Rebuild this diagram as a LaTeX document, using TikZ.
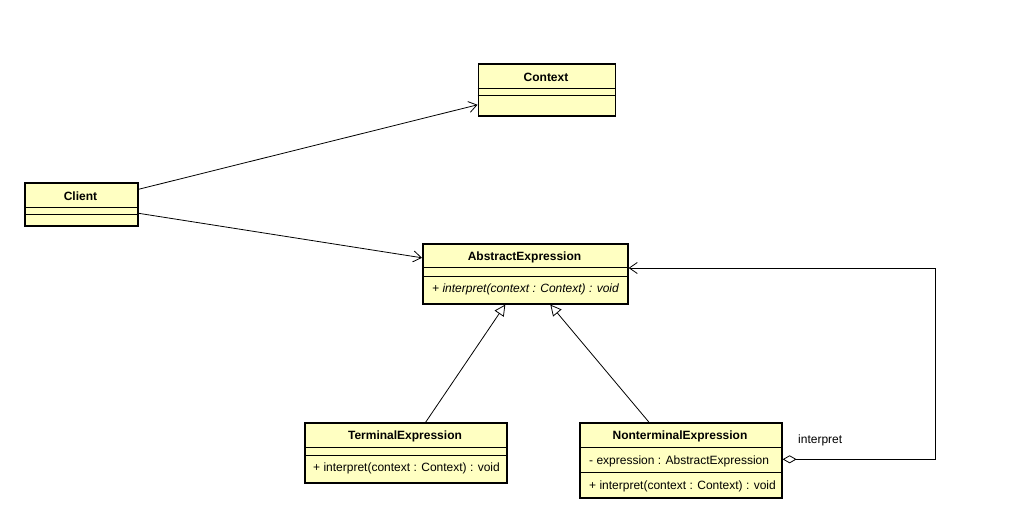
\documentclass[tikz,border=0pt]{standalone}
\usepackage{fontspec}
\setmainfont{Liberation Sans}
\usetikzlibrary{arrows.meta}
\usepackage{xcolor}
\definecolor{classfill}{HTML}{FFFFC2}
\definecolor{ink}{HTML}{000000}

\begin{document}
\begin{tikzpicture}[x=1pt, y=-1pt,
  cls/.style={draw=ink, line width=1.6pt, fill=classfill, anchor=north west,
              inner sep=0pt},
  sep/.style={draw=ink, line width=0.8pt},
  cname/.style={font=\fontsize{12}{14}\selectfont\bfseries, text=ink},
  member/.style={font=\fontsize{12}{14}\selectfont, text=ink, anchor=west,
                 inner sep=0pt},
  assoc/.style={draw=ink, line width=0.8pt, -{Straight Barb[length=8pt,width=11pt]}},
  inherit/.style={draw=ink, line width=0.8pt,
                  -{Triangle[open, length=11pt, width=11pt, fill=white]}}
]
  \useasboundingbox (0,0) rectangle (1030,532);

  % Context
  \node[cls, minimum width=137pt, minimum height=52pt] (ctx) at (477.5,63) {};
  \draw[sep] ([yshift=-25pt]ctx.north west) -- ([yshift=-25pt]ctx.north east);
  \draw[sep] ([yshift=-32pt]ctx.north west) -- ([yshift=-32pt]ctx.north east);
  \node[cname] (ctxname) at (546,77) {Context};

  % Client
  \node[cls, minimum width=113pt, minimum height=43pt] (cli) at (24,182) {};
  \draw[sep] ([yshift=-25pt]cli.north west) -- ([yshift=-25pt]cli.north east);
  \draw[sep] ([yshift=-32pt]cli.north west) -- ([yshift=-32pt]cli.north east);
  \node[cname] (cliname) at (80.5,196) {Client};

  % AbstractExpression
  \node[cls, minimum width=205pt, minimum height=60pt] (abs) at (422,243) {};
  \draw[sep] ([yshift=-24pt]abs.north west) -- ([yshift=-24pt]abs.north east);
  \draw[sep] ([yshift=-33pt]abs.north west) -- ([yshift=-33pt]abs.north east);
  \node[cname] (absname) at (524.5,257) {AbstractExpression};
  \node[member, font=\fontsize{12}{14}\selectfont\itshape] (absop) at (432,289)
    {+ interpret(context : Context) : void};

  % TerminalExpression
  \node[cls, minimum width=202pt, minimum height=60pt] (tex) at (304,422) {};
  \draw[sep] ([yshift=-25pt]tex.north west) -- ([yshift=-25pt]tex.north east);
  \draw[sep] ([yshift=-33pt]tex.north west) -- ([yshift=-33pt]tex.north east);
  \node[cname] (texname) at (405,436) {TerminalExpression};
  \node[member] (texop) at (313,468) {+ interpret(context : Context) : void};

  % NonterminalExpression
  \node[cls, minimum width=202pt, minimum height=75pt] (nte) at (579,422) {};
  \draw[sep] ([yshift=-25pt]nte.north west) -- ([yshift=-25pt]nte.north east);
  \draw[sep] ([yshift=-50pt]nte.north west) -- ([yshift=-50pt]nte.north east);
  \node[cname] (ntename) at (680,436) {NonterminalExpression};
  \node[member] (nteattr) at (589,461) {- expression : AbstractExpression};
  \node[member] (nteop) at (589,486) {+ interpret(context : Context) : void};

  % Associations
  \draw[assoc] ([yshift=15pt]cli.east) -- ([yshift=-15pt]ctx.west);
  \draw[assoc] ([yshift=-9pt]cli.east) -- ([yshift=16pt]abs.west);

  % Generalizations
  \draw[inherit] ([xshift=20pt]tex.north) -- ([xshift=-20pt]abs.south);
  \draw[inherit] ([xshift=-32pt]nte.north) -- ([xshift=25pt]abs.south);

  % Aggregation
  \coordinate (aggtop) at (935,268);
  \draw[draw=ink, line width=0.8pt,
        {Diamond[open, length=14pt, width=8pt, fill=white]}-{Straight Barb[length=8pt,width=11pt]}]
    ([yshift=1pt]nte.east) -| (aggtop) -- (aggtop -| abs.east);
  \node[member] (agglabel) at (798,440.5) {interpret};
\end{tikzpicture}
\end{document}
